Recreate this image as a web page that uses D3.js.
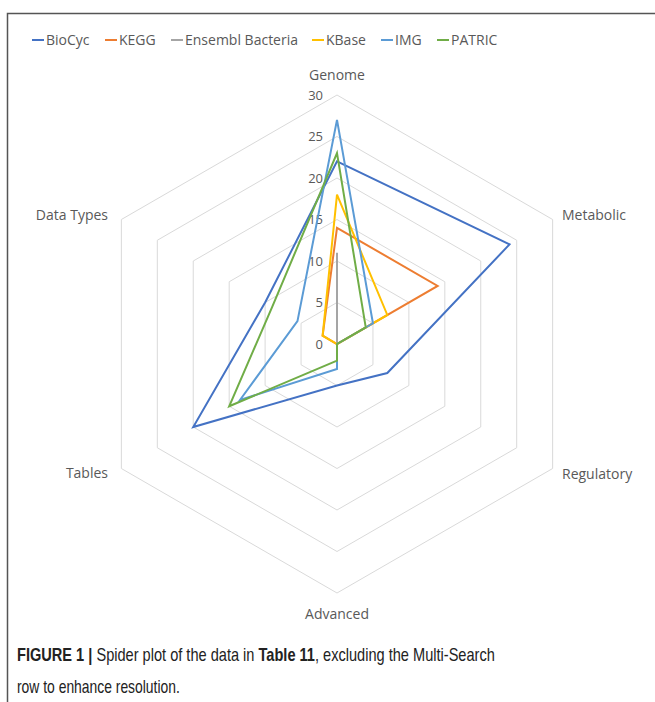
<!DOCTYPE html>
<html lang="en">
<head>
<meta charset="utf-8">
<title>Spider plot</title>
<script src="https://d3js.org/d3.v7.min.js"></script>
<style>
  body { margin: 0; background: #fff; }
  svg { display: block; }
  .lbl { font-family: "Open Sans", sans-serif; fill: #595959; }
</style>
</head>
<body>
<script>
const W = 655, H = 702;

// axes, clockwise from the top
const axes = ["Genome", "Metabolic", "Regulatory", "Advanced", "Tables", "Data Types"];
const ticks = [0, 5, 10, 15, 20, 25, 30];

// one row per source, values in axis order
const seriesNames = ["BioCyc", "KEGG", "Ensembl Bacteria", "KBase", "IMG", "PATRIC"];
const bioCyc  = [22, 24, 7, 5, 20, 10];
const kegg    = [14, 14, 0, 0, 0, 2];
const ensembl = [11, 0, 0, 0, 0, 0];
const kbase   = [18, 7, 0, 0, 0, 2];
const img     = [27, 5, 0, 3, 13.5, 5.5];
const patric  = [23, 4, 0, 2, 15, 9];
const colors  = ["#4472C4", "#ED7D31", "#A5A5A5", "#FFC000", "#5B9BD5", "#70AD47"];

const series = [bioCyc, kegg, ensembl, kbase, img, patric];

const cx = 337, cy = 344;
const r = d3.scaleLinear().domain([0, 30]).range([0, 249]);
const ang = d3.scalePoint().domain(axes.concat("_end")).range([0, 2 * Math.PI]);

const svg = d3.select("body").append("svg").attr("width", W).attr("height", H);

// frame (left and top edges only show in the crop)
svg.append("path")
  .attr("d", "M7.5," + H + "V13.5H" + W)
  .attr("fill", "none").attr("stroke", "#555").attr("stroke-width", 1.5);

const g = svg.append("g").attr("transform", `translate(${cx},${cy})`);

const radial = d3.lineRadial()
  .angle((d, i) => ang(axes[i]))
  .radius(d => r(d))
  .curve(d3.curveLinearClosed);

// hexagon grid
g.selectAll(".grid").data(ticks.filter(t => t > 0)).enter()
  .append("path")
  .attr("d", t => radial(axes.map(() => t)))
  .attr("fill", "none")
  .attr("stroke", "#D9D9D9")
  .attr("stroke-width", 1);

// tick labels along the Genome axis
g.selectAll(".tick").data(ticks).enter()
  .append("text")
  .attr("class", "lbl")
  .attr("x", -14)
  .attr("y", t => -r(t))
  .attr("dy", "0.35em")
  .attr("text-anchor", "end")
  .attr("font-size", 13)
  .text(t => t);

// series
g.selectAll(".series").data(series).enter()
  .append("path")
  .attr("d", d => radial(d))
  .attr("fill", "none")
  .attr("stroke", (d, i) => colors[i])
  .attr("stroke-width", 2)
  .attr("stroke-linejoin", "miter");

// axis labels
const labelPos = [
  { x: 0, y: -269, anchor: "middle" },
  { x: 225, y: -129, anchor: "start" },
  { x: 225, y: 130, anchor: "start" },
  { x: 0, y: 270, anchor: "middle" },
  { x: -229, y: 129, anchor: "end" },
  { x: -229, y: -129, anchor: "end" }
];
g.selectAll(".axis").data(axes).enter()
  .append("text")
  .attr("class", "lbl")
  .attr("x", (d, i) => labelPos[i].x)
  .attr("y", (d, i) => labelPos[i].y)
  .attr("dy", "0.35em")
  .attr("text-anchor", (d, i) => labelPos[i].anchor)
  .attr("font-size", 14)
  .text(d => d);

// legend
const legendX = [32, 105, 171, 312, 381, 437];
const leg = svg.selectAll(".leg").data(seriesNames).enter()
  .append("g")
  .attr("transform", (d, i) => `translate(${legendX[i]},40)`);
leg.append("line")
  .attr("x1", 0).attr("x2", 12)
  .attr("stroke", (d, i) => colors[i])
  .attr("stroke-width", 2);
leg.append("text")
  .attr("class", "lbl")
  .attr("x", 14)
  .attr("dy", "0.35em")
  .attr("font-size", 14)
  .text(d => d);

// caption
const cap1 = svg.append("text")
  .attr("font-family", "'Liberation Sans Narrow', 'Liberation Sans', Arial, sans-serif")
  .attr("font-size", 18)
  .attr("fill", "#222");
cap1.append("tspan").attr("font-weight", "bold").text("FIGURE 1 | ");
cap1.append("tspan").text("Spider plot of the data in ");
cap1.append("tspan").attr("font-weight", "bold").text("Table 11");
cap1.append("tspan").text(", excluding the Multi-Search");

const cap2 = svg.append("text")
  .attr("font-family", "'Liberation Sans Narrow', 'Liberation Sans', Arial, sans-serif")
  .attr("font-size", 18)
  .attr("fill", "#222")
  .text("row to enhance resolution.");

// squeeze caption lines to the condensed width of the original
function fit(sel, x, y, width) {
  const w = sel.node().getComputedTextLength();
  sel.attr("transform", `translate(${x},${y}) scale(${width / w},1)`);
}
fit(cap1, 17, 661, 478);
fit(cap2, 17, 693, 163);
</script>
</body>
</html>
